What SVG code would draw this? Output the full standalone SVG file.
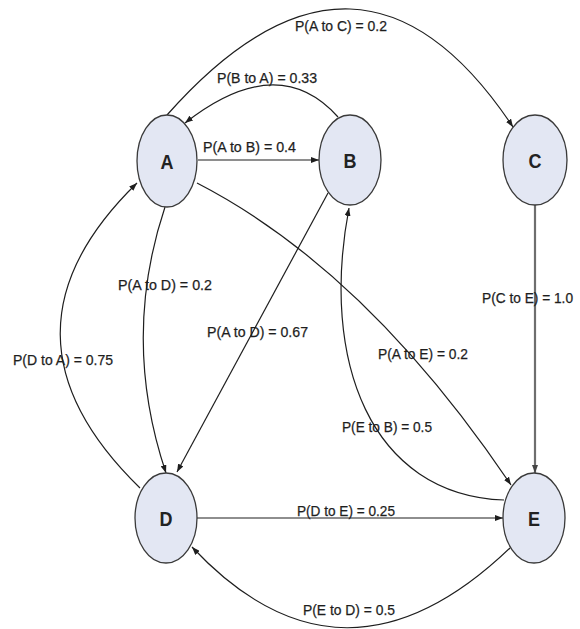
<svg xmlns="http://www.w3.org/2000/svg" width="580" height="629" viewBox="0 0 580 629">
<style>
.node{fill:#e3e7f3;stroke:#3a3a3a;stroke-width:1.3}
.nl{font-family:"Liberation Sans",Arial,sans-serif;font-size:21px;font-weight:bold;fill:#222;text-anchor:middle}
.edge{fill:none;stroke:#1e1e1e;stroke-width:1.2;marker-end:url(#arr)}
.gray{stroke:#6e6e6e;stroke-width:2.2;marker-end:url(#arrg)}
.lbl{font-family:"Liberation Sans",Arial,sans-serif;font-size:15px;fill:#1e1e1e;stroke:#1e1e1e;stroke-width:0.25}
</style>
<defs>
<marker id="arr" markerWidth="8" markerHeight="6" refX="8" refY="3" orient="auto" markerUnits="userSpaceOnUse"><path d="M0,0 L8,3 L0,6 z" fill="#1e1e1e"/></marker>
<marker id="arrg" markerWidth="8" markerHeight="6" refX="8" refY="3" orient="auto" markerUnits="userSpaceOnUse"><path d="M0,0 L8,3 L0,6 z" fill="#444"/></marker>
</defs>
<g id="connectors">
<path class="edge" d="M167,115 Q360,-103 513,127"/>
<path class="edge" d="M338,117 Q278,50 185,123"/>
<path class="edge" d="M198,160 L319,160"/>
<path class="edge" d="M165,207 Q121,339 166,473"/>
<path class="edge" d="M328,193 L177,472"/>
<path class="edge" d="M140,488 Q-18,334 137,183"/>
<path class="edge" d="M197,183 Q366,270 511,485"/>
<path class="edge" d="M504,500 C370,495 320,360 349,208"/>
<path class="edge gray" d="M535,205 L535,473"/>
<path class="edge" d="M197,518 L503,518"/>
<path class="edge" d="M510,548 Q343,708 192,547"/>
</g>
<g id="labels">
<text class="lbl" x="295" y="31" textLength="92" lengthAdjust="spacingAndGlyphs">P(A to C) = 0.2</text>
<text class="lbl" x="217" y="83" textLength="100" lengthAdjust="spacingAndGlyphs">P(B to A) = 0.33</text>
<text class="lbl" x="203" y="152" textLength="93" lengthAdjust="spacingAndGlyphs">P(A to B) = 0.4</text>
<text class="lbl" x="118" y="290" textLength="94" lengthAdjust="spacingAndGlyphs">P(A to D) = 0.2</text>
<text class="lbl" x="207" y="337" textLength="101" lengthAdjust="spacingAndGlyphs">P(A to D) = 0.67</text>
<text class="lbl" x="13" y="365" textLength="100" lengthAdjust="spacingAndGlyphs">P(D to A) = 0.75</text>
<text class="lbl" x="482" y="303" style="font-size:14px" textLength="91" lengthAdjust="spacingAndGlyphs">P(C to E) = 1.0</text>
<text class="lbl" x="378" y="359" textLength="90" lengthAdjust="spacingAndGlyphs">P(A to E) = 0.2</text>
<text class="lbl" x="342" y="432" textLength="90" lengthAdjust="spacingAndGlyphs">P(E to B) = 0.5</text>
<text class="lbl" x="297" y="516" textLength="98" lengthAdjust="spacingAndGlyphs">P(D to E) = 0.25</text>
<text class="lbl" x="303" y="615" textLength="92" lengthAdjust="spacingAndGlyphs">P(E to D) = 0.5</text>
</g>
<g id="node-A"><ellipse class="node" cx="167" cy="161" rx="30" ry="46"/><text class="nl" x="167" y="169" textLength="13" lengthAdjust="spacingAndGlyphs">A</text></g>
<g id="node-B"><ellipse class="node" cx="350" cy="160" rx="31" ry="45"/><text class="nl" x="350" y="168" textLength="13" lengthAdjust="spacingAndGlyphs">B</text></g>
<g id="node-C"><ellipse class="node" cx="535" cy="160" rx="32" ry="45"/><text class="nl" x="535" y="168" textLength="13" lengthAdjust="spacingAndGlyphs">C</text></g>
<g id="node-D"><ellipse class="node" cx="166" cy="518" rx="31" ry="45"/><text class="nl" x="166" y="526" textLength="13" lengthAdjust="spacingAndGlyphs">D</text></g>
<g id="node-E"><ellipse class="node" cx="534" cy="518" rx="31" ry="45"/><text class="nl" x="534" y="526" textLength="12" lengthAdjust="spacingAndGlyphs">E</text></g>
</svg>
